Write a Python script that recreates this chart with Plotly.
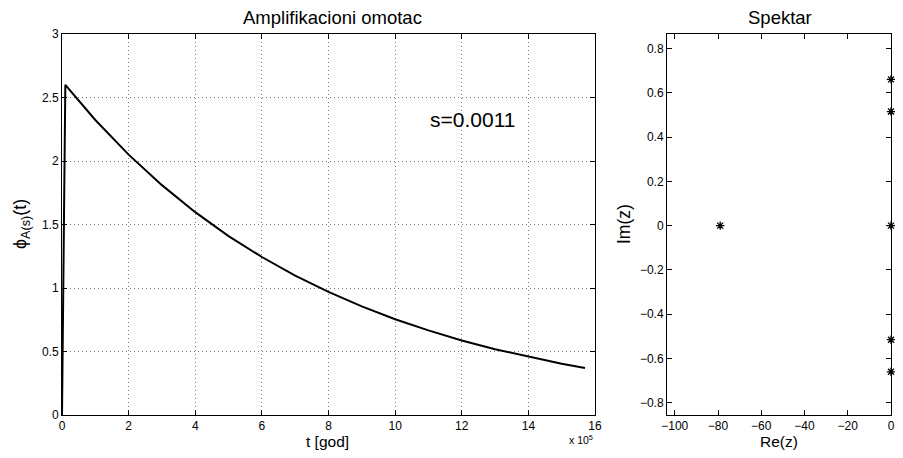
import plotly.graph_objects as go

# ---- data (left panel): amplification envelope, t in units of 1e5 years ----
t_1e5 = [0.0, 0.1, 1, 2, 3, 4, 5, 6, 7, 8, 9, 10, 11, 12, 13, 14, 15, 15.7]
phi = [0.0, 2.60, 2.323, 2.050, 1.810, 1.597, 1.409, 1.244, 1.097, 0.969,
       0.855, 0.754, 0.666, 0.587, 0.518, 0.458, 0.404, 0.370]

# ---- data (right panel): spectrum ----
re_z = [-79, 0, 0, 0, 0, 0]
im_z = [0, 0.66, 0.515, 0, -0.515, -0.66]

left_xticks = [0, 2, 4, 6, 8, 10, 12, 14, 16]
left_yticks = [0, 0.5, 1, 1.5, 2, 2.5, 3]
right_xticks = [-100, -80, -60, -40, -20, 0]
right_yticks = [-0.8, -0.6, -0.4, -0.2, 0, 0.2, 0.4, 0.6, 0.8]

W, H = 903, 458
OFF = 8  # page body margin
FW, FH = W - 2 * OFF, H - 2 * OFF
FONT = "Liberation Sans, Arial, Helvetica, sans-serif"

fig = go.Figure()
fig.add_trace(go.Scatter(x=t_1e5, y=phi, mode="lines",
                         line=dict(color="black", width=2),
                         xaxis="x", yaxis="y", showlegend=False))
fig.add_trace(go.Scatter(x=re_z, y=im_z, mode="markers",
                         marker=dict(symbol="asterisk-open", size=7,
                                     color="black", line=dict(color="black", width=1.3)),
                         cliponaxis=False,
                         xaxis="x2", yaxis="y2", showlegend=False))

def px_x(p):
    return (p - OFF) / FW

def px_y(p):
    return 1 - (p - OFF) / FH

ax_common = dict(showline=True, linecolor="black", linewidth=1, mirror="allticks",
                 ticks="inside", ticklen=5, tickcolor="black", zeroline=False,
                 automargin=False,
                 tickfont=dict(family=FONT, size=12, color="black"))

grid = dict(showgrid=True, gridcolor="#777777", griddash="1px,3px", gridwidth=1)

y_dom = [px_y(415), px_y(34)]

fig.update_layout(
    width=FW, height=FH,
    margin=dict(l=0, r=0, t=0, b=0, autoexpand=False),
    paper_bgcolor="white", plot_bgcolor="white",
    font=dict(family=FONT, color="black"),
    xaxis=dict(domain=[px_x(62), px_x(595)], range=[0, 16], tickvals=left_xticks,
               anchor="y", **grid, **ax_common),
    yaxis=dict(domain=y_dom, range=[0, 3], tickvals=left_yticks,
               ticktext=["0", "0.5", "1", "1.5", "2", "2.5", "3"],
               anchor="x", **grid, **ax_common),
    xaxis2=dict(domain=[px_x(667), px_x(891)], range=[-103.6, 0], tickvals=right_xticks,
                ticktext=["\u2212100", "\u221280", "\u221260", "\u221240", "\u221220", "0"],
                showgrid=False, anchor="y2", **ax_common),
    yaxis2=dict(domain=y_dom, range=[-0.855, 0.865], tickvals=right_yticks,
                ticktext=["\u22120.8", "\u22120.6", "\u22120.4", "\u22120.2", "0",
                          "0.2", "0.4", "0.6", "0.8"],
                showgrid=False, anchor="x2", **ax_common),
)

ann = []
def paper_text(text, x, y, size, angle=0, xanchor="center", yanchor="middle"):
    ann.append(dict(text=text, x=px_x(x), y=px_y(y), xref="paper", yref="paper",
                    showarrow=False, xanchor=xanchor, yanchor=yanchor, textangle=angle,
                    font=dict(family=FONT, size=size, color="black")))

paper_text("Amplifikacioni omotac", 332, 17, 18.5)
paper_text("Spektar", 780, 17, 18.5)
paper_text("t [god]", 327, 441, 15.5)
paper_text("Re(z)", 779, 441, 15.5)
paper_text("\u03d5<sub>A(s)</sub>(t)", 21, 224, 18, angle=-90)
paper_text("Im(z)", 624, 224, 17.5, angle=-90)
paper_text("x 10<sup>5</sup>", 567, 439, 10.5, xanchor="left")

ann.append(dict(text="s=0.0011", x=11, y=2.33, xref="x", yref="y", showarrow=False,
                xanchor="left", yanchor="middle",
                font=dict(family=FONT, size=21, color="black")))

fig.update_layout(annotations=ann)
fig.write_html("out.html")
